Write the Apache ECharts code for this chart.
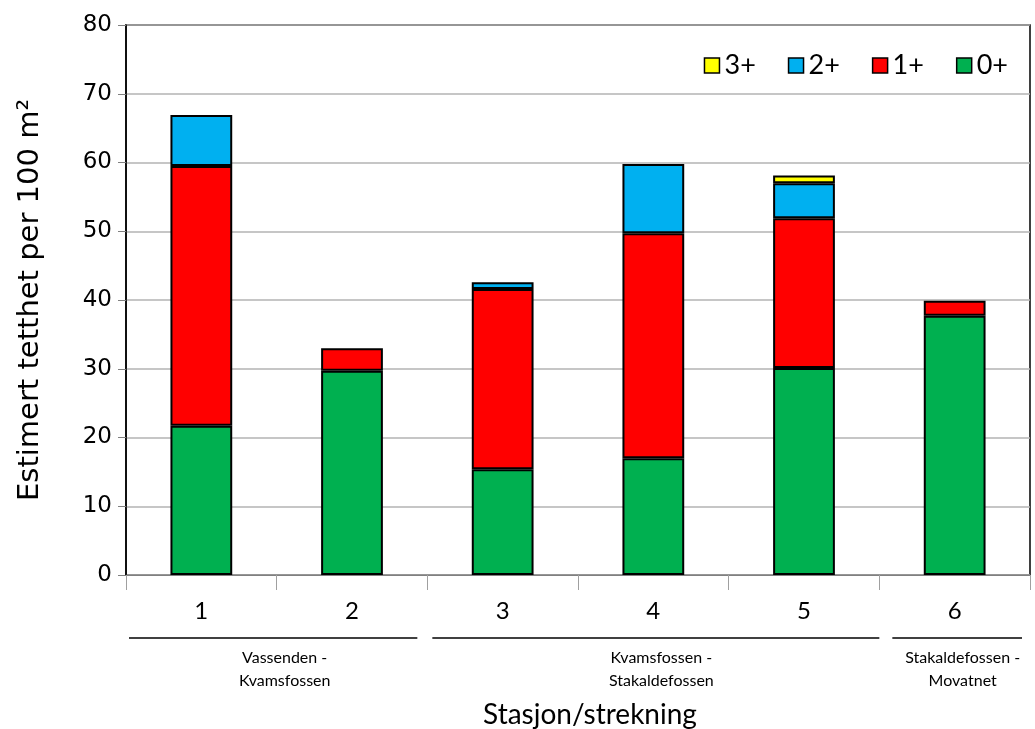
<!DOCTYPE html>
<html>
<head>
<meta charset="utf-8">
<script src="https://cdn.jsdelivr.net/npm/echarts@6/dist/echarts.min.js"></script>
<style>html,body{margin:0;padding:0;background:#fff;}#c{width:1035px;height:729px;}</style>
</head>
<body>
<div id="c"></div>
<script>
var categories = ['1', '2', '3', '4', '5', '6'];
var age0 = [21.7, 29.7, 15.4, 17.0, 30.1, 37.7];
var age1 = [37.8, 3.3, 26.2, 32.7, 21.8, 2.2];
var age2 = [7.4, '-', 1.0, 10.1, 5.1, '-'];
var age3 = ['-', '-', '-', '-', 1.1, '-'];
var groups = [
  {name: 'Vassenden -\nKvamsfossen', from: 0, to: 2},
  {name: 'Kvamsfossen -\nStakaldefossen', from: 2, to: 5},
  {name: 'Stakaldefossen -\nMovatnet', from: 5, to: 6}
];
var yTicks = [0, 10, 20, 30, 40, 50, 60, 70, 80];

var chart = echarts.init(document.getElementById('c'));
var groupCenters = {};
groups.forEach(function (g) { groupCenters[((g.from + g.to) / 2).toFixed(1)] = g.name; });

function mk(name, data, color) {
  return {
    name: name, type: 'bar', stack: 'total', data: data,
    barWidth: '41%',
    itemStyle: {color: color, borderColor: '#000', borderWidth: 2},
    emphasis: {disabled: true}
  };
}

var option = {
  animation: false,
  grid: {left: 126, right: 5, top: 25, bottom: 154, show: true, borderColor: '#000', borderWidth: 1.5,
         containLabel: false, outerBoundsMode: 'none'},
  legend: {
    data: ['3+', '2+', '1+', '0+'],
    top: 47, right: 22,
    itemWidth: 15, itemHeight: 15, itemGap: 32,
    icon: 'rect',
    itemStyle: {borderColor: '#000', borderWidth: 1.5},
    textStyle: {fontFamily: 'Lato', fontSize: 27, color: '#000', padding: [0, 0, 0, 0]}
  },
  xAxis: [{
    type: 'category', data: categories,
    axisLine: {lineStyle: {color: '#808080', width: 1}},
    axisTick: {show: true, alignWithLabel: false, length: 15, lineStyle: {color: '#a0a0a0'}},
    axisLabel: {fontFamily: 'Lato', fontSize: 24, color: '#000', margin: 24},
    name: 'Stasjon/strekning', nameLocation: 'middle', nameGap: 126,
    nameTextStyle: {fontFamily: 'Lato', fontSize: 28, color: '#000', padding: [0, 0, 0, 24]}
  }, {
    type: 'value', min: 0, max: 6, interval: 0.5, position: 'bottom', offset: 63,
    axisLine: {show: false}, axisTick: {show: false}, splitLine: {show: false},
    axisLabel: {
      fontFamily: 'Lato', fontSize: 16, color: '#000', margin: 8, lineHeight: 23,
      showMinLabel: true, showMaxLabel: true, padding: [0, 0, 0, 16],
      formatter: function (v) { return groupCenters[v.toFixed(1)] || ''; }
    }
  }],
  yAxis: {
    type: 'value', min: 0, max: 80, interval: 10,
    axisLine: {show: true, lineStyle: {color: '#000', width: 1.5}},
    axisTick: {show: true, length: 8, lineStyle: {color: '#808080'}},
    axisLabel: {fontFamily: 'DejaVu Sans', fontSize: 23, color: '#000', margin: 14},
    splitLine: {lineStyle: {color: '#b3b3b3', width: 1.5}},
    name: 'Estimert tetthet per 100 m²', nameLocation: 'middle', nameGap: 81,
    nameTextStyle: {fontFamily: 'DejaVu Sans', fontSize: 29, color: '#000'}
  },
  series: [
    mk('0+', age0, '#00b050'),
    mk('1+', age1, '#ff0000'),
    mk('2+', age2, '#00b0f0'),
    mk('3+', age3, '#ffff00')
  ]
};
chart.setOption(option);

var lineY = chart.convertToPixel({gridIndex: 0}, [0, 0])[1] + 63;
var insets = [[3, 10], [5, 0], [13, 8]];
var elements = groups.map(function (g, i) {
  var x1 = chart.convertToPixel({xAxisIndex: 1}, g.from) + insets[i][0];
  var x2 = chart.convertToPixel({xAxisIndex: 1}, g.to) - insets[i][1];
  return {type: 'line', shape: {x1: x1, y1: lineY, x2: x2, y2: lineY}, style: {stroke: '#000', lineWidth: 1.5}};
});
chart.setOption({graphic: elements});
</script>
</body>
</html>
